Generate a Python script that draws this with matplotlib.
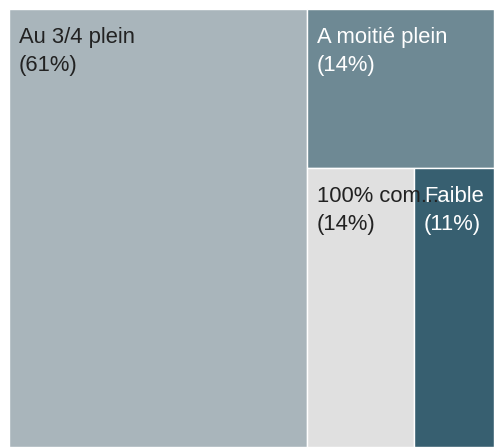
import matplotlib
matplotlib.use("Agg")
import matplotlib.pyplot as plt
from matplotlib.patches import Rectangle

labels = ["Au 3/4 plein", "A moitié plein", "100% com...", "Faible"]
values = [35, 8, 8, 6]
colors = ["#a9b5bb", "#6e8994", "#e0e0e0", "#375f70"]
text_colors = ["#222222", "#ffffff", "#222222", "#ffffff"]

W, H = 485.0, 438.0
total = float(sum(values))

# layout: first cell = left column; the rest: top cell, bottom split side by side
rects = []
w0 = W * values[0] / total
rects.append((0, 0, w0, H))
rest = total - values[0]
rw = W - w0
h1 = H * values[1] / rest
rects.append((w0, H - h1, rw, h1))
bottom_total = values[2] + values[3]
bh = H - h1
w2 = rw * values[2] / bottom_total
rects.append((w0, 0, w2, bh))
rects.append((w0 + w2, 0, rw - w2, bh))

fig = plt.figure(figsize=(4.94, 4.47), dpi=100)
ax = fig.add_axes([9 / 494, 0, 485 / 494, 438 / 447])
ax.set_xlim(0, W)
ax.set_ylim(0, H)
ax.axis("off")

for (x, y, w, h), c in zip(rects, colors):
    ax.add_patch(Rectangle((x, y), w, h, facecolor=c, edgecolor="white", linewidth=1.0))

for i, ((x, y, w, h), lab, tc) in enumerate(zip(rects, labels, text_colors)):
    pct = 100 * values[i] / total
    top = y + h
    ax.annotate(lab, (x, top), xytext=(10, -34), textcoords="offset pixels",
                fontsize=15.8, color=tc, family="Liberation Sans",
                va="baseline", ha="left", annotation_clip=False, zorder=5 + i)
    ax.annotate(f"({pct:.0f}%)", (x, top), xytext=(10, -62), textcoords="offset pixels",
                fontsize=15.8, color=tc, family="Liberation Sans",
                va="baseline", ha="left", annotation_clip=False, zorder=5 + i)

fig.savefig("out.png", dpi=100)
